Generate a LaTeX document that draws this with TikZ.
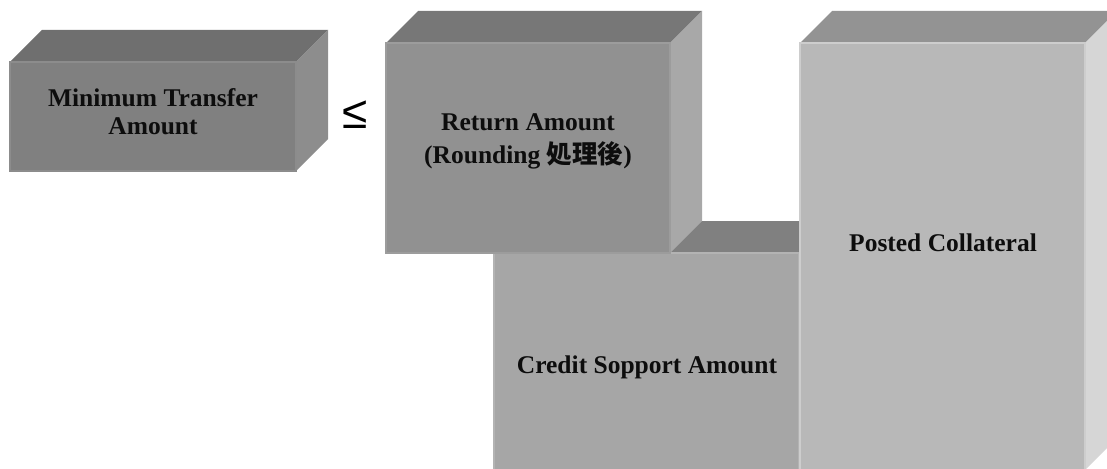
\documentclass[tikz,border=0pt]{standalone}
\usepackage{fontspec}
\setmainfont{Liberation Serif}
\newfontfamily\cjk{Noto Sans CJK JP}
\newfontfamily\symfont{Liberation Sans}
\usetikzlibrary{positioning}

% face shades, front / top / side / rim
\definecolor{mtaFront}{HTML}{808080}
\definecolor{mtaTop}{HTML}{6F6F6F}
\definecolor{mtaSide}{HTML}{8D8D8D}
\definecolor{mtaRim}{HTML}{8C8C8C}
\definecolor{retFront}{HTML}{919191}
\definecolor{retTop}{HTML}{777777}
\definecolor{retSide}{HTML}{A8A8A8}
\definecolor{retRim}{HTML}{9C9C9C}
\definecolor{csaFront}{HTML}{A6A6A6}
\definecolor{csaTop}{HTML}{808080}
\definecolor{csaSide}{HTML}{BEBEBE}
\definecolor{csaRim}{HTML}{B3B3B3}
\definecolor{pcFront}{HTML}{B8B8B8}
\definecolor{pcTop}{HTML}{939393}
\definecolor{pcSide}{HTML}{D6D6D6}
\definecolor{pcRim}{HTML}{CDCDCD}

\begin{document}
\begin{tikzpicture}[
  x=1pt, y=-1pt,
  front/.style={fill=#1, line width=1.5pt},
  lbl/.style={font=\fontsize{25.5}{28}\selectfont\bfseries, align=center, text=black!95},
  every node/.style={inner sep=0pt}
]
\clip (0,0) rectangle (1107,468);

% Minimum Transfer Amount
\fill[mtaTop] (10,62) -- (42,30) -- (328,30) -- (296,62) -- cycle;
\fill[mtaSide] (296,62) -- (328,30) -- (328,139) -- (296,171) -- cycle;
\draw[front=mtaFront, draw=mtaRim] (10,62) rectangle (296,171);
\node[lbl] (mta) at (153,112) {Minimum Transfer\\Amount};

% Credit Sopport Amount (behind the return box)
\fill[csaTop] (494,253) -- (526,221) -- (831,221) -- (799,253) -- cycle;
\fill[csaSide] (799,253) -- (831,221) -- (831,438) -- (799,470) -- cycle;
\draw[front=csaFront, draw=csaRim] (494,253) rectangle (799,470);
\node[lbl] (csa) at (647,367) {Credit Sopport Amount};

% Return Amount
\fill[retTop] (386,43) -- (418,11) -- (702,11) -- (670,43) -- cycle;
\fill[retSide] (670,43) -- (702,11) -- (702,221) -- (670,253) -- cycle;
\draw[front=retFront, draw=retRim] (386,43) rectangle (670,253);
\node[lbl, font=\fontsize{25.5}{33}\selectfont\bfseries] (ret) at (528,141)
  {Return Amount\\(Rounding {\cjk 処理後})};

% Posted Collateral
\fill[pcTop] (800,43) -- (832,11) -- (1117,11) -- (1085,43) -- cycle;
\fill[pcSide] (1085,43) -- (1117,11) -- (1117,438) -- (1085,470) -- cycle;
\draw[front=pcFront, draw=pcRim] (800,43) rectangle (1085,470);
\node[lbl] (pc) at (943,243) {Posted Collateral};

% relation between the two amounts
\node[font=\symfont\fontsize{46}{46}\selectfont] (le) at (355.5,115) {≤};

\end{tikzpicture}
\end{document}
